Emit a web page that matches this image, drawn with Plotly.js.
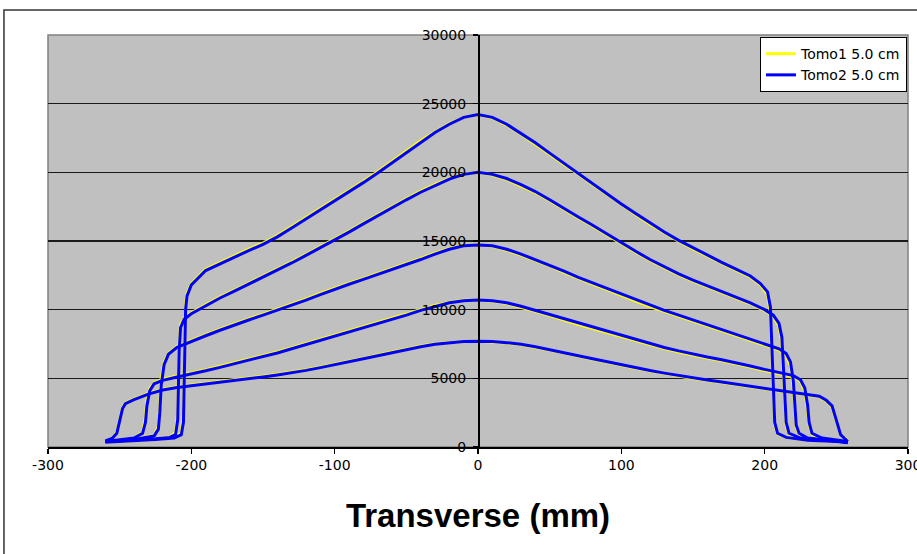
<!DOCTYPE html>
<html>
<head>
<meta charset="utf-8">
<script src="https://cdn.plot.ly/plotly-3.0.1.min.js"></script>
<style>html,body{margin:0;padding:0;background:#fff;}#chart{width:917px;height:554px;}</style>
</head>
<body>
<div id="chart"></div>
<script>
// ---- Data (Transverse position in mm, dose values) ----
const seriesNames = ["Tomo1 5.0 cm", "Tomo2 5.0 cm"];
const xTickVals = [-300, -200, -100, 0, 100, 200, 300];
const xTickText = ["-300", "-200", "-100", "0", "100", "200", "300"];
const yTickVals = [0, 5000, 10000, 15000, 20000, 25000, 30000];

// Profile 1 (highest)
const p1X = [-260,-240,-225,-212,-207,-205.5,-205,-204.5,-204,-203,-200,-190,-180,-170,-160,-150,-140,-130,-120,-110,-100,-90,-80,-70,-60,-50,-40,-30,-20,-10,0,10,20,30,40,50,60,70,80,90,100,110,120,130,140,150,160,170,180,190,197,202,204,205,206,207,209,215,230,250,258];
const p1Tomo2 = [350,450,550,650,900,1800,4500,8000,10000,11000,11800,12850,13350,13850,14300,14750,15300,15950,16600,17250,17900,18550,19250,19950,20700,21450,22200,22900,23500,24000,24200,24000,23500,22850,22150,21400,20650,19950,19200,18450,17700,17000,16300,15650,15050,14500,13950,13450,12950,12450,11900,11300,10200,7500,3500,1800,1000,700,500,400,300];
const p1Tomo1 = [350,450,550,680,1050,2400,5500,8800,10400,11200,11900,12950,13450,13950,14400,14850,15400,16050,16700,17350,18000,18650,19350,20050,20800,21550,22300,22950,23550,24020,24200,23960,23440,22780,22080,21320,20570,19880,19120,18370,17620,16930,16230,15580,14980,14430,13880,13380,12880,12380,11800,11100,9700,6700,3100,1600,950,680,500,400,300];

// Profile 2
const p2X = [-260,-240,-225,-215,-211,-209.5,-209,-208.5,-207.5,-205,-200,-190,-180,-170,-160,-150,-140,-130,-120,-110,-100,-90,-80,-70,-60,-50,-40,-30,-20,-10,0,10,20,30,40,50,60,70,80,90,100,110,120,130,140,150,160,170,180,190,200,206,210,212,213,214,215,217,225,240,258];
const p2Tomo2 = [400,500,600,700,900,2000,4500,7000,8700,9300,9700,10300,10850,11350,11850,12350,12850,13400,13950,14500,15100,15650,16250,16850,17450,18000,18550,19050,19500,19850,20000,19850,19550,19100,18600,18000,17350,16750,16150,15500,14900,14250,13650,13100,12600,12150,11750,11350,10900,10500,10000,9600,9000,8000,6000,3500,1800,1000,650,500,350];
const p2Tomo1 = [400,500,600,720,1100,2500,5200,7600,8950,9400,9780,10380,10930,11430,11930,12430,12930,13480,14030,14580,15180,15730,16330,16930,17530,18080,18630,19130,19560,19880,20000,19800,19480,19030,18530,17930,17280,16680,16080,15430,14830,14180,13580,13030,12530,12080,11680,11280,10830,10430,9930,9500,8800,7600,5500,3000,1600,920,620,480,350];

// Profile 3
const p3X = [-260,-240,-226,-223,-222,-221,-219,-216,-210,-200,-190,-180,-170,-160,-150,-140,-130,-120,-110,-100,-90,-80,-70,-60,-50,-40,-30,-20,-10,0,10,20,30,40,50,60,70,80,90,100,110,120,130,140,150,160,170,180,190,200,210,215,218,220,221,222,224,230,245,258];
const p3Tomo2 = [400,550,800,1300,2500,4500,6000,6750,7250,7700,8100,8500,8900,9250,9600,9950,10300,10700,11100,11500,11850,12200,12550,12950,13300,13650,14050,14400,14650,14700,14650,14400,14050,13650,13250,12800,12350,11950,11550,11100,10700,10300,9950,9600,9250,8900,8600,8250,7900,7550,7150,6800,6200,4800,3000,1600,1000,650,500,350];
const p3Tomo1 = [400,550,850,1500,3000,5000,6200,6830,7330,7780,8180,8580,8980,9330,9680,10030,10380,10780,11180,11580,11930,12280,12630,13030,13380,13730,14120,14450,14680,14700,14620,14330,13980,13580,13180,12720,12270,11870,11470,11020,10620,10220,9870,9520,9170,8820,8520,8170,7820,7470,7070,6650,5900,4300,2600,1400,900,620,480,350];

// Profile 4
const p4X = [-260,-240,-234,-232,-231,-229,-226,-220,-210,-200,-190,-180,-170,-160,-150,-140,-130,-120,-110,-100,-90,-80,-70,-60,-50,-40,-30,-20,-10,0,10,20,30,40,50,60,70,80,90,100,110,120,130,140,150,160,170,180,190,200,210,220,225,228,230,231,233,240,258];
const p4Tomo2 = [400,650,1000,1800,3000,4100,4600,4850,5100,5300,5550,5800,6050,6300,6550,6850,7150,7450,7750,8050,8350,8650,9000,9300,9600,9950,10250,10500,10650,10700,10650,10500,10250,9950,9650,9300,9000,8700,8400,8100,7800,7500,7250,7000,6750,6550,6350,6150,5900,5650,5450,5200,4900,4300,3000,1800,1000,650,400];
const p4Tomo1 = [400,650,1100,2200,3400,4250,4680,4930,5180,5380,5630,5880,6130,6380,6630,6930,7230,7530,7830,8130,8430,8730,9080,9380,9680,10020,10310,10540,10680,10700,10620,10450,10180,9880,9570,9220,8920,8620,8320,8020,7720,7420,7170,6920,6670,6470,6270,6070,5820,5570,5370,5120,4800,4050,2600,1600,900,620,400];

// Profile 5 (lowest, widest)
const p5X = [-260,-255,-252,-250,-248,-246,-240,-230,-220,-210,-200,-190,-180,-170,-160,-150,-140,-130,-120,-110,-100,-90,-80,-70,-60,-50,-40,-30,-20,-10,0,10,20,30,40,50,60,70,80,90,100,110,120,130,140,150,160,170,180,190,200,210,220,230,238,243,247,249,251,253,256,258];
const p5Tomo2 = [450,650,1000,1800,2800,3150,3450,3850,4150,4330,4450,4570,4700,4820,4950,5100,5250,5400,5580,5780,5980,6200,6420,6650,6880,7100,7300,7480,7600,7680,7700,7680,7600,7480,7300,7100,6880,6650,6420,6200,5980,5770,5570,5380,5200,5030,4880,4730,4580,4430,4290,4150,4000,3850,3700,3400,3000,2300,1500,900,600,400];
const p5Tomo1 = [450,680,1100,2000,2900,3200,3500,3900,4200,4380,4500,4620,4750,4870,5000,5150,5300,5450,5630,5830,6030,6250,6470,6700,6930,7150,7350,7520,7630,7690,7700,7660,7570,7450,7260,7060,6840,6610,6380,6160,5940,5730,5530,5340,5160,4990,4840,4690,4540,4390,4250,4110,3960,3810,3650,3330,2900,2200,1450,900,650,450];

// ---- Build the two series (profiles separated by gaps) ----
function joinProfiles(xs, ys) {
  const X = [], Y = [];
  for (let i = 0; i < xs.length; i++) {
    const n = Math.min(xs[i].length, ys[i].length);
    for (let j = 0; j < n; j++) { X.push(xs[i][j]); Y.push(ys[i][j]); }
    if (i < xs.length - 1) { X.push(null); Y.push(null); }
  }
  return {X, Y};
}
const allX = [p1X, p2X, p3X, p4X, p5X];
const t1 = joinProfiles(allX, [p1Tomo1, p2Tomo1, p3Tomo1, p4Tomo1, p5Tomo1]);
const t2 = joinProfiles(allX, [p1Tomo2, p2Tomo2, p3Tomo2, p4Tomo2, p5Tomo2]);

const TICKFONT = "DejaVu Sans, Verdana, sans-serif";
const TITLEFONT = "Liberation Sans, Arial, sans-serif";

const traces = [
  {x: t1.X, y: t1.Y, name: seriesNames[0], type: "scatter", mode: "lines",
   connectgaps: false, line: {color: "#FFFF00", width: 3}},
  {x: t2.X, y: t2.Y, name: seriesNames[1], type: "scatter", mode: "lines",
   connectgaps: false, line: {color: "#0000FF", width: 3}}
];

const layout = {
  width: 917, height: 554,
  margin: {l: 48, r: 9, t: 35, b: 107, pad: 0},
  paper_bgcolor: "#FFFFFF",
  plot_bgcolor: "#C0C0C0",
  font: {family: TICKFONT, size: 13, color: "#000"},
  showlegend: true,
  legend: {
    x: 0.9988, xanchor: "right", y: 0.995, yanchor: "top",
    bgcolor: "#FFFFFF", bordercolor: "#000", borderwidth: 1,
    font: {family: TICKFONT, size: 14, color: "#000"},
    tracegroupgap: 0, itemwidth: 30
  },
  xaxis: {
    range: [-300, 300], tickvals: xTickVals, ticktext: xTickText,
    ticks: "outside", ticklen: 5, tickcolor: "#000", tickwidth: 1.5,
    showline: true, linecolor: "#000", linewidth: 1.5,
    showgrid: false, zeroline: false, ticklabeloverflow: "allow",
    tickfont: {family: TICKFONT, size: 14, color: "#000"},
    title: {text: "Transverse (mm)", font: {family: TITLEFONT, size: 33, color: "#000", weight: "bold"}, standoff: 31}
  },
  yaxis: {
    range: [0, 30000], tickvals: yTickVals, tickformat: "d",
    anchor: "free", position: 0.5,
    ticks: "outside", ticklen: 5, tickcolor: "#000", tickwidth: 1.5,
    showline: true, linecolor: "#000", linewidth: 1.5,
    showgrid: true, gridcolor: "#1a1a1a", gridwidth: 1.2,
    zeroline: false, ticklabelstandoff: 4,
    tickfont: {family: TICKFONT, size: 14, color: "#000"}
  },
  shapes: [
    {type: "rect", xref: "paper", yref: "paper", x0: 0, x1: 1, y0: 0, y1: 1,
     line: {color: "#808080", width: 1.5}, fillcolor: "rgba(0,0,0,0)", layer: "below"},
    {type: "rect", xref: "paper", yref: "paper", x0: -0.0512, x1: 1.03, y0: -0.32, y1: 1.0607,
     line: {color: "#333333", width: 1.5}, fillcolor: "rgba(0,0,0,0)", layer: "below"}
  ]
};

Plotly.newPlot("chart", traces, layout, {staticPlot: true, displayModeBar: false});
</script>
</body>
</html>
